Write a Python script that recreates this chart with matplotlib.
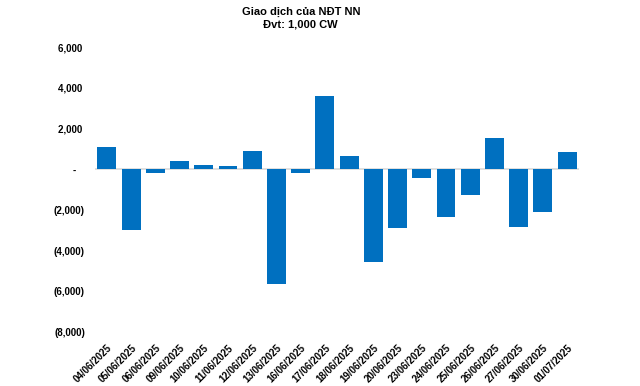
import matplotlib
matplotlib.use("Agg")
import matplotlib.pyplot as plt
from matplotlib.ticker import FuncFormatter

plt.rcParams['font.family'] = ['Liberation Sans', 'DejaVu Sans']

dates = ['04/06/2025', '05/06/2025', '06/06/2025', '09/06/2025', '10/06/2025',
         '11/06/2025', '12/06/2025', '13/06/2025', '16/06/2025', '17/06/2025',
         '18/06/2025', '19/06/2025', '20/06/2025', '23/06/2025', '24/06/2025',
         '25/06/2025', '26/06/2025', '27/06/2025', '30/06/2025', '01/07/2025']
values = [1080, -3000, -180, 400, 200, 150, 900, -5640, -180, 3590,
          640, -4560, -2890, -440, -2340, -1270, 1520, -2840, -2110, 830]

fig = plt.figure(figsize=(6.4, 3.86), dpi=100)
ax = fig.add_axes([0.148, 0.140, 0.757, 0.738])

x = list(range(len(dates)))
ax.bar(x, values, width=0.78, color='#0070C0', zorder=2)
ax.axhline(0, color='#D9D9D9', linewidth=1.2, zorder=1)

ax.set_xlim(-0.5, len(dates) - 0.5)
ax.set_ylim(-8000, 6000)
ax.set_yticks(range(-8000, 6001, 2000))


def acct(v, pos):
    if v > 0:
        return f'{v:,.0f} '
    if v < 0:
        return f'({-v:,.0f})'
    return '-   '


ax.yaxis.set_major_formatter(FuncFormatter(acct))
ax.set_xticks(x)
ax.set_xticklabels(dates, rotation=45, ha='right', va='top',
                   rotation_mode='anchor')

for s in ax.spines.values():
    s.set_visible(False)
ax.tick_params(axis='both', length=0, labelsize=7)
ax.tick_params(axis='y', pad=7)
ax.tick_params(axis='x', pad=8)
for lab in ax.get_xticklabels() + ax.get_yticklabels():
    lab.set_fontweight('bold')

fig.text(0.471, 0.968, 'Giao dịch của NĐT NN', ha='center', va='center',
         fontsize=8, fontweight='bold')
fig.text(0.469, 0.937, 'Đvt: 1,000 CW', ha='center', va='center',
         fontsize=8, fontweight='bold')

fig.savefig('out.png', dpi=100)
